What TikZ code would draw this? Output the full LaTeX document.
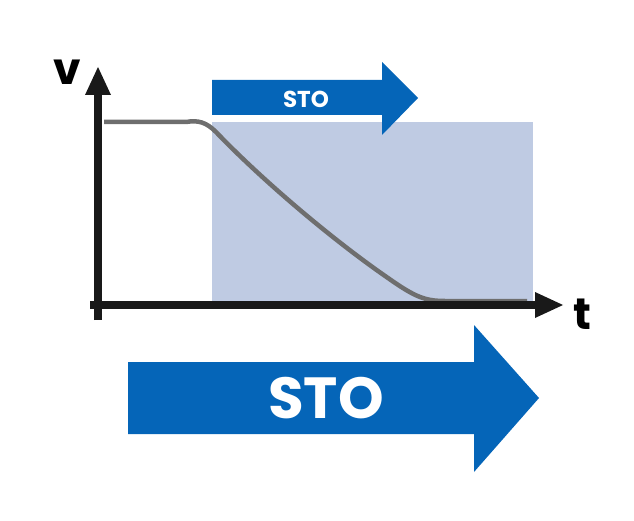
\documentclass[tikz,border=0pt]{standalone}
\usepackage{fontspec}
\setmainfont{Poppins}
\definecolor{stoblue}{HTML}{0565B8}
\definecolor{shadebg}{HTML}{BFCBE3}
\definecolor{curvegray}{HTML}{6E6E6E}
\begin{document}
\begin{tikzpicture}[x=1pt,y=-1pt,
  bigarrow/.style={fill=stoblue,draw=none},
  axis/.style={line width=8pt,draw=black!90},
  lbl/.style={text=white,font=\bfseries,inner sep=0pt}]
\useasboundingbox (0,0) rectangle (634,521);
% shaded area
\fill[shadebg] (212,122) rectangle (533,302);
% top arrow
\fill[bigarrow] (212,80) -- (382,80) -- (382,62) -- (418,98) -- (382,135) -- (382,115) -- (212,115) -- cycle;
\node[lbl,font=\fontsize{23}{23}\selectfont\bfseries] (sto1) at (306,99) {STO};
% curve
\draw[curvegray,line width=4.5pt] (104,122) -- (186,122) .. controls (198,120) and (206,122) .. (216,132)
  .. controls (260,178) and (330,238) .. (388,278) .. controls (415,297) and (425,301) .. (445,301) -- (527,301);
% axes
\coordinate (ybot) at (98,320);
\coordinate (xleft) at (90,305);
\coordinate (ytip) at (98,67);
\coordinate (xtip) at (563,305);
\draw[axis] (ybot) -- (98,92);
\fill[black!90] (ytip) -- (111,95) -- (85,95) -- cycle;
\draw[axis] (xleft) -- (538,305);
\fill[black!90] (xtip) -- (535,292) -- (535,318) -- cycle;
\node[font=\fontsize{44}{44}\selectfont\bfseries,inner sep=0pt] (v) at (67,72) {v};
\node[font=\fontsize{44}{44}\selectfont\bfseries,inner sep=0pt] (t) at (582,314) {t};
% bottom arrow
\fill[bigarrow] (128,362) -- (474,362) -- (474,325) -- (539,398) -- (474,472) -- (474,434) -- (128,434) -- cycle;
\node[lbl,font=\fontsize{58}{58}\selectfont\bfseries] (sto2) at (326,398) {STO};
\end{tikzpicture}
\end{document}
